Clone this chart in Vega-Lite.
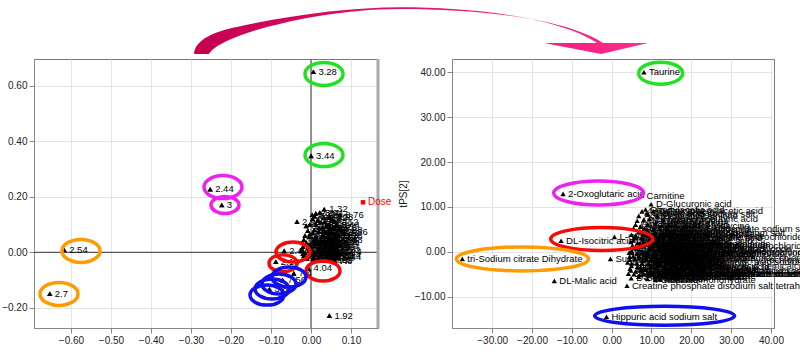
{
"$schema": "https://vega.github.io/schema/vega-lite/v6.json",
"padding": {"left": 1, "top": 6, "right": 0, "bottom": 0},
"bounds": "flush",
"spacing": 74,
"config": {
  "view": {"stroke": "#777", "strokeWidth": 1},
  "axis": {"grid": true, "gridColor": "#e4e4e4", "labelFontSize": 10, "labelColor": "#222"}
},
"datasets": {
  "left": [
    {"label": "3.28", "x": 0.006, "y": 0.65},
    {"label": "3.44", "x": 0.0, "y": 0.347},
    {"label": "2.44", "x": -0.252, "y": 0.227},
    {"label": "3", "x": -0.223, "y": 0.17},
    {"label": "2.54", "x": -0.617, "y": 0.008},
    {"label": "2.7", "x": -0.653, "y": -0.149},
    {"label": "1.92", "x": 0.046, "y": -0.228},
    {"label": "1.32", "x": 0.033, "y": 0.155},
    {"label": "8.76", "x": 0.073, "y": 0.134},
    {"label": "7.36", "x": 0.083, "y": 0.072},
    {"label": "2.96", "x": -0.035, "y": 0.11},
    {"label": "2.4", "x": -0.067, "y": 0.005},
    {"label": "2.16", "x": -0.088, "y": -0.034},
    {"label": "4.04", "x": -0.006, "y": -0.058},
    {"label": "7.4", "x": -0.043, "y": -0.076},
    {"label": "7.56", "x": -0.071, "y": -0.1},
    {"label": "3.84", "x": -0.104, "y": -0.133},
    {"label": "2.84", "x": 0.012, "y": 0.14},
    {"label": "2.92", "x": 0.003, "y": 0.135},
    {"label": "3.04", "x": 0.022, "y": 0.143},
    {"label": "8.24", "x": 0.017, "y": 0.116},
    {"label": "3.92", "x": 0.032, "y": 0.125},
    {"label": "8.8", "x": 0.052, "y": 0.118},
    {"label": "3.2", "x": 0.045, "y": 0.1},
    {"label": "3.08", "x": 0.038, "y": 0.095},
    {"label": "8.44", "x": 0.063, "y": 0.097},
    {"label": "3.96", "x": 0.028, "y": 0.09},
    {"label": "3.24", "x": -0.008, "y": 0.078},
    {"label": "6.88", "x": 0.004, "y": 0.07},
    {"label": "7.28", "x": 0.02, "y": 0.075},
    {"label": "7.88", "x": 0.07, "y": 0.082},
    {"label": "3.16", "x": 0.055, "y": 0.07},
    {"label": "4.12", "x": 0.042, "y": 0.06},
    {"label": "3.68", "x": 0.07, "y": 0.044},
    {"label": "7.32", "x": 0.06, "y": 0.05},
    {"label": "4.08", "x": 0.012, "y": 0.058},
    {"label": "3.12", "x": -0.018, "y": 0.045},
    {"label": "2.68", "x": -0.012, "y": 0.035},
    {"label": "3.36", "x": 0.005, "y": 0.04},
    {"label": "3.52", "x": 0.025, "y": 0.045},
    {"label": "3.56", "x": 0.035, "y": 0.035},
    {"label": "3.6", "x": 0.05, "y": 0.03},
    {"label": "3.64", "x": 0.062, "y": 0.02},
    {"label": "3.72", "x": -0.02, "y": 0.02},
    {"label": "3.76", "x": -0.008, "y": 0.015},
    {"label": "3.8", "x": 0.008, "y": 0.022},
    {"label": "3.88", "x": 0.02, "y": 0.015},
    {"label": "4", "x": 0.032, "y": 0.012},
    {"label": "4.16", "x": 0.045, "y": 0.008},
    {"label": "4.2", "x": 0.058, "y": 0.005},
    {"label": "4.24", "x": 0.068, "y": 0.0},
    {"label": "4.28", "x": -0.025, "y": 0.005},
    {"label": "4.32", "x": -0.015, "y": -0.002},
    {"label": "4.36", "x": 0.0, "y": -0.005},
    {"label": "2.04", "x": 0.012, "y": -0.01},
    {"label": "2.36", "x": 0.025, "y": -0.012},
    {"label": "2.56", "x": 0.038, "y": -0.015},
    {"label": "1.04", "x": 0.05, "y": -0.018},
    {"label": "1.2", "x": 0.062, "y": -0.02},
    {"label": "1.44", "x": 0.067, "y": -0.016},
    {"label": "5.24", "x": -0.01, "y": -0.022},
    {"label": "7.04", "x": 0.005, "y": -0.025},
    {"label": "7.2", "x": 0.02, "y": -0.028},
    {"label": "7.44", "x": 0.033, "y": -0.03},
    {"label": "7.52", "x": 0.045, "y": -0.026},
    {"label": "7.6", "x": 0.058, "y": -0.03},
    {"label": "7.64", "x": -0.018, "y": -0.012},
    {"label": "7.84", "x": 0.015, "y": 0.005},
    {"label": "8.08", "x": 0.028, "y": 0.002},
    {"label": "8.12", "x": 0.04, "y": 0.02},
    {"label": "8.2", "x": 0.052, "y": 0.015},
    {"label": "8.32", "x": 0.065, "y": 0.01},
    {"label": "2.12", "x": 0.003, "y": 0.008},
    {"label": "2.28", "x": -0.005, "y": 0.028},
    {"label": "2.32", "x": 0.018, "y": 0.032},
    {"label": "2.48", "x": 0.03, "y": 0.028},
    {"label": "2.6", "x": 0.042, "y": 0.04},
    {"label": "2.64", "x": 0.055, "y": 0.045},
    {"label": "2.72", "x": 0.01, "y": 0.05},
    {"label": "2.76", "x": 0.028, "y": 0.06},
    {"label": "2.88", "x": 0.036, "y": 0.07},
    {"label": "3.4", "x": 0.048, "y": 0.085},
    {"label": "5.22", "x": 0.06, "y": 0.062},
    {"label": "1.08", "x": -0.005, "y": 0.055},
    {"label": "0.88", "x": -0.022, "y": 0.01},
    {"label": "0.92", "x": -0.012, "y": 0.03},
    {"label": "0.96", "x": 0.0, "y": 0.02},
    {"label": "1.12", "x": 0.01, "y": 0.035},
    {"label": "1.16", "x": 0.022, "y": 0.025},
    {"label": "1.24", "x": 0.034, "y": 0.045},
    {"label": "1.28", "x": 0.046, "y": 0.052},
    {"label": "1.36", "x": 0.058, "y": 0.038},
    {"label": "1.4", "x": 0.066, "y": 0.028},
    {"label": "1.52", "x": -0.015, "y": 0.06},
    {"label": "1.56", "x": -0.003, "y": 0.065},
    {"label": "1.6", "x": 0.008, "y": 0.08},
    {"label": "1.64", "x": 0.02, "y": 0.088},
    {"label": "1.68", "x": 0.032, "y": 0.08},
    {"label": "1.72", "x": 0.044, "y": 0.072},
    {"label": "1.76", "x": 0.056, "y": 0.088},
    {"label": "1.8", "x": -0.02, "y": -0.005},
    {"label": "1.84", "x": -0.008, "y": -0.015},
    {"label": "1.88", "x": 0.006, "y": -0.018},
    {"label": "1.96", "x": 0.018, "y": -0.02},
    {"label": "2", "x": 0.03, "y": -0.022},
    {"label": "2.08", "x": 0.042, "y": -0.008},
    {"label": "2.2", "x": 0.054, "y": -0.012},
    {"label": "2.24", "x": 0.066, "y": -0.008},
    {"label": "2.52", "x": -0.022, "y": 0.035},
    {"label": "2.8", "x": 0.015, "y": 0.045},
    {"label": "3.32", "x": 0.027, "y": 0.038},
    {"label": "3.48", "x": 0.04, "y": 0.028},
    {"label": "4.4", "x": 0.052, "y": 0.022},
    {"label": "4.44", "x": 0.063, "y": 0.035},
    {"label": "4.48", "x": -0.004, "y": 0.005},
    {"label": "4.52", "x": 0.009, "y": -0.003},
    {"label": "4.56", "x": 0.024, "y": -0.002},
    {"label": "4.6", "x": 0.036, "y": 0.0},
    {"label": "4.64", "x": 0.049, "y": -0.004},
    {"label": "5.28", "x": 0.07, "y": 0.06},
    {"label": "5.32", "x": 0.064, "y": 0.07},
    {"label": "5.36", "x": 0.012, "y": 0.1},
    {"label": "5.4", "x": 0.025, "y": 0.108},
    {"label": "6.92", "x": 0.004, "y": 0.12},
    {"label": "6.96", "x": -0.012, "y": 0.095},
    {"label": "7", "x": 0.035, "y": 0.11},
    {"label": "7.08", "x": 0.047, "y": 0.128},
    {"label": "7.12", "x": 0.06, "y": 0.11},
    {"label": "7.16", "x": -0.003, "y": 0.1},
    {"label": "7.24", "x": 0.009, "y": 0.13}
  ],
  "right": [
    {"label": "Taurine", "x": 8.1, "y": 40.0},
    {"label": "2-Oxoglutaric acid", "x": -12.2, "y": 12.9},
    {"label": "Carnitine", "x": 7.5, "y": 12.5},
    {"label": "D-Glucuronic acid", "x": 9.9, "y": 10.6},
    {"label": "DL-Isocitric acid", "x": -12.7, "y": 2.45},
    {"label": "L-Glutamine", "x": 0.7, "y": 3.3},
    {"label": "Succinic acid", "x": -0.3, "y": -1.6},
    {"label": "tri-Sodium citrate Dihydrate", "x": -37.5, "y": -1.6},
    {"label": "DL-Malic acid", "x": -14.4, "y": -6.5},
    {"label": "Creatine phosphate disodium salt tetrahydrate", "x": 3.85, "y": -7.6},
    {"label": "Hippuric acid sodium salt", "x": -1.3, "y": -14.5},
    {"label": "Phenylacetic acid", "x": 8.5, "y": 9.4},
    {"label": "4-Hydroxyphenylacetic acid", "x": 7.6, "y": 9.0},
    {"label": "Pyruvic acid sodium salt", "x": 9.2, "y": 8.3},
    {"label": "Sodium acetate", "x": 8.8, "y": 8.6},
    {"label": "N,N-Dimethylglycine", "x": 6.4, "y": 6.9},
    {"label": "Betaine", "x": 7.2, "y": 5.6},
    {"label": "D-Glucose-6-phosphate sodium salt", "x": 10.5, "y": 5.0},
    {"label": "Choline chloride", "x": 9.0, "y": 4.6},
    {"label": "Acetoacetic acid lithium salt", "x": 13.0, "y": 4.1},
    {"label": "Creatinine", "x": 8.0, "y": 4.2},
    {"label": "Trimethylamine hydrochloride", "x": 15.5, "y": 3.3},
    {"label": "L-Alanine", "x": 6.0, "y": 3.6},
    {"label": "Glycine", "x": 7.5, "y": 3.0},
    {"label": "L-Valine", "x": 9.5, "y": 2.7},
    {"label": "L-Leucine", "x": 11.5, "y": 2.3},
    {"label": "L-Isoleucine", "x": 13.5, "y": 1.9},
    {"label": "Sarcosine", "x": 6.5, "y": 2.0},
    {"label": "Fumaric acid", "x": 8.5, "y": 1.6},
    {"label": "Dimethylamine hydrochloride", "x": 17.0, "y": 1.2},
    {"label": "Sodium formate", "x": 10.0, "y": 1.0},
    {"label": "L-Threonine", "x": 5.5, "y": 0.8},
    {"label": "L-Lysine monohydrochloride", "x": 14.0, "y": 0.5},
    {"label": "L-Proline", "x": 7.0, "y": 0.3},
    {"label": "L-Serine", "x": 9.0, "y": -0.1},
    {"label": "Urea", "x": 5.2, "y": -0.3},
    {"label": "Allantoin", "x": 11.0, "y": -0.4},
    {"label": "Trigonelline hydrochloride", "x": 15.0, "y": -0.6},
    {"label": "Uracil", "x": 6.8, "y": -0.9},
    {"label": "Hypoxanthine", "x": 8.7, "y": -1.1},
    {"label": "Nicotinamide", "x": 12.5, "y": -1.2},
    {"label": "1-Methylnicotinamide chloride", "x": 17.5, "y": -1.4},
    {"label": "Sodium lactate", "x": 5.8, "y": -1.6},
    {"label": "L-Glutamic acid", "x": 10.2, "y": -1.8},
    {"label": "Malonic acid", "x": 7.8, "y": -2.0},
    {"label": "Glycolic acid", "x": 13.8, "y": -2.1},
    {"label": "3-Hydroxybutyric acid sodium salt", "x": 16.0, "y": -2.4},
    {"label": "L-Tyrosine", "x": 6.3, "y": -2.6},
    {"label": "L-Phenylalanine", "x": 9.5, "y": -2.8},
    {"label": "L-Histidine", "x": 12.0, "y": -3.0},
    {"label": "Inosine", "x": 5.0, "y": -3.2},
    {"label": "Uridine", "x": 7.3, "y": -3.4},
    {"label": "myo-Inositol", "x": 11.0, "y": -3.6},
    {"label": "N-Acetylglutamine", "x": 14.5, "y": -3.7},
    {"label": "L-Tryptophan", "x": 8.5, "y": -4.0},
    {"label": "Indoxyl sulfate potassium salt", "x": 16.5, "y": -4.2},
    {"label": "L-Methionine", "x": 6.0, "y": -4.4},
    {"label": "D-Mannitol", "x": 10.0, "y": -4.6},
    {"label": "D-Glucose anhydrous", "x": 13.0, "y": -4.8},
    {"label": "Sodium phosphate dibasic anhydrous", "x": 19.0, "y": -4.9},
    {"label": "Glycerol", "x": 7.0, "y": -5.2},
    {"label": "Lactose monohydrate", "x": 12.0, "y": -5.4},
    {"label": "Pimelic acid", "x": 9.0, "y": -6.1},
    {"label": "D-Saccharic acid", "x": 4.9, "y": -5.9},
    {"label": "Glutaric acid", "x": 4.2, "y": -4.9},
    {"label": "Adipic acid", "x": 4.6, "y": -3.8},
    {"label": "L-Asparagine", "x": 4.0, "y": -2.4},
    {"label": "Citraconic acid", "x": 4.5, "y": -1.1},
    {"label": "Propionic acid", "x": 5.0, "y": 0.2},
    {"label": "L-Arginine hydrochloride", "x": 6.0, "y": 1.2},
    {"label": "Xylitol", "x": 5.5, "y": 2.5},
    {"label": "Kynurenic acid", "x": 11.0, "y": 6.3},
    {"label": "Phenylacetylglycine", "x": 12.5, "y": 5.8},
    {"label": "trans-Aconitic acid", "x": 14.0, "y": 4.8},
    {"label": "cis-Aconitic acid", "x": 17.0, "y": 2.4},
    {"label": "Ethanolamine hydrochloride", "x": 18.5, "y": 0.0},
    {"label": "Methylamine hydrochloride", "x": 19.5, "y": -1.8},
    {"label": "Pantothenic acid hemicalcium salt", "x": 18.0, "y": -3.2},
    {"label": "Oxalic acid", "x": 21.0, "y": -2.6},
    {"label": "Tartaric acid", "x": 22.0, "y": -0.8},
    {"label": "Acetone", "x": 20.0, "y": 1.6},
    {"label": "Isovaleric acid", "x": 23.0, "y": -4.0},
    {"label": "2-Hydroxyisobutyric acid", "x": 9.5, "y": 7.3},
    {"label": "scyllo-Inositol", "x": 15.0, "y": -5.6},
    {"label": "Sucrose", "x": 8.0, "y": -5.0},
    {"label": "D-Galactose", "x": 10.5, "y": 3.6},
    {"label": "Maltose monohydrate", "x": 12.0, "y": -6.2},
    {"label": "Acetylcarnitine", "x": 6.8, "y": 8.0},
    {"label": "Propionylcarnitine", "x": 11.5, "y": 8.0},
    {"label": "Butyric acid", "x": 8.0, "y": 7.0},
    {"label": "Valeric acid", "x": 12.8, "y": 7.0},
    {"label": "Hexanoic acid", "x": 6.0, "y": 6.0},
    {"label": "Levulinic acid", "x": 9.0, "y": 6.0},
    {"label": "Caprylic acid", "x": 14.5, "y": 6.0},
    {"label": "Itaconic acid", "x": 5.5, "y": 5.2},
    {"label": "Maleic acid", "x": 8.2, "y": 5.2},
    {"label": "Mesaconic acid", "x": 12.0, "y": 5.2},
    {"label": "Glyoxylic acid", "x": 6.8, "y": 4.4},
    {"label": "Formic acid", "x": 10.8, "y": 4.4},
    {"label": "Benzoic acid", "x": 15.8, "y": 4.4},
    {"label": "Salicylic acid", "x": 5.0, "y": 3.8},
    {"label": "4-Aminohippuric acid", "x": 8.8, "y": 3.8},
    {"label": "Nicotinic acid", "x": 12.2, "y": 3.8},
    {"label": "Picolinic acid", "x": 6.2, "y": 3.0},
    {"label": "Quinolinic acid", "x": 10.0, "y": 3.0},
    {"label": "Anthranilic acid", "x": 13.0, "y": 3.0},
    {"label": "Homovanillic acid", "x": 18.0, "y": 3.0},
    {"label": "Vanillylmandelic acid", "x": 4.8, "y": 2.2},
    {"label": "3-Methylhistidine", "x": 8.0, "y": 2.2},
    {"label": "1-Methylhistidine", "x": 11.0, "y": 2.2},
    {"label": "Carnosine", "x": 15.0, "y": 2.2},
    {"label": "Anserine", "x": 5.2, "y": 1.4},
    {"label": "Ornithine monohydrochloride", "x": 7.4, "y": 1.4},
    {"label": "Citrulline", "x": 12.8, "y": 1.4},
    {"label": "Homocitrulline", "x": 16.0, "y": 1.4},
    {"label": "beta-Alanine", "x": 6.2, "y": 0.6},
    {"label": "gamma-Aminobutyric acid", "x": 9.6, "y": 0.6},
    {"label": "Aminoadipic acid", "x": 12.0, "y": 0.6},
    {"label": "Cystine", "x": 16.5, "y": 0.6},
    {"label": "Cysteine hydrochloride", "x": 4.4, "y": -0.2},
    {"label": "Glutathione reduced", "x": 7.6, "y": -0.2},
    {"label": "Guanidinoacetic acid", "x": 13.0, "y": -0.2},
    {"label": "Methylguanidine hydrochloride", "x": 17.0, "y": -0.2},
    {"label": "Dimethyl sulfone", "x": 5.4, "y": -1.0},
    {"label": "Methanol", "x": 10.6, "y": -1.0},
    {"label": "Ethanol", "x": 14.0, "y": -1.0},
    {"label": "Isopropanol", "x": 16.8, "y": -1.0},
    {"label": "Acetaldehyde", "x": 4.6, "y": -1.8},
    {"label": "Acetamide", "x": 8.6, "y": -1.8},
    {"label": "Thymine", "x": 12.0, "y": -1.8},
    {"label": "Thymidine", "x": 15.0, "y": -1.8},
    {"label": "Cytidine", "x": 5.0, "y": -2.6},
    {"label": "Cytosine", "x": 7.6, "y": -2.6},
    {"label": "Adenosine", "x": 11.0, "y": -2.6},
    {"label": "Guanosine", "x": 14.0, "y": -2.6},
    {"label": "Xanthine", "x": 19.0, "y": -2.6},
    {"label": "Uric acid sodium salt", "x": 6.4, "y": -3.4},
    {"label": "Orotic acid", "x": 9.8, "y": -3.4},
    {"label": "Pseudouridine", "x": 13.2, "y": -3.4},
    {"label": "N-Acetylaspartic acid", "x": 16.0, "y": -3.4},
    {"label": "N-Acetylglycine", "x": 4.8, "y": -4.2},
    {"label": "Isobutyric acid", "x": 7.2, "y": -4.2},
    {"label": "2-Methylbutyric acid", "x": 11.8, "y": -4.2},
    {"label": "3-Methyl-2-oxovaleric acid sodium salt", "x": 14.0, "y": -4.2},
    {"label": "4-Methyl-2-oxovaleric acid sodium salt", "x": 5.6, "y": -5.0},
    {"label": "3-Methyl-2-oxobutyric acid sodium salt", "x": 9.2, "y": -5.0},
    {"label": "2-Hydroxybutyric acid sodium salt", "x": 15.8, "y": -5.0},
    {"label": "2-Hydroxyisovaleric acid", "x": 6.8, "y": -5.6},
    {"label": "Methylmalonic acid", "x": 10.8, "y": -5.6},
    {"label": "Ethylmalonic acid", "x": 13.4, "y": -5.6},
    {"label": "Galactitol", "x": 11.0, "y": -6.3},
    {"label": "D-Fructose", "x": 10.5, "y": 9.0},
    {"label": "L-Arabinose", "x": 7.0, "y": 1.8},
    {"label": "D-Ribose", "x": 9.0, "y": -0.6},
    {"label": "L-Fucose", "x": 11.8, "y": -2.3},
    {"label": "Trehalose dihydrate", "x": 13.8, "y": -1.5},
    {"label": "Raffinose pentahydrate", "x": 10.2, "y": -4.9},
    {"label": "Gluconic acid sodium salt", "x": 8.0, "y": -3.8},
    {"label": "Glycerophosphocholine", "x": 12.8, "y": 0.1},
    {"label": "O-Phosphoethanolamine", "x": 7.0, "y": -1.3},
    {"label": "Tyramine hydrochloride", "x": 9.4, "y": 0.9},
    {"label": "Histamine dihydrochloride", "x": 11.2, "y": 1.7},
    {"label": "Putrescine dihydrochloride", "x": 6.4, "y": -0.4},
    {"label": "Spermidine", "x": 14.8, "y": -2.9},
    {"label": "Imidazole", "x": 5.8, "y": 3.2},
    {"label": "Pyridoxine hydrochloride", "x": 8.4, "y": 4.0},
    {"label": "Thiamine hydrochloride", "x": 12.4, "y": 3.4}
  ],
  "leftRings": [
    {"x": 0.0325, "y": 0.642, "cluster": "G", "ring": "a"},
    {"x": 0.0325, "y": 0.35, "cluster": "G", "ring": "a"},
    {"x": -0.22, "y": 0.235, "cluster": "M", "ring": "a"},
    {"x": -0.215, "y": 0.17, "cluster": "M", "ring": "b"},
    {"x": -0.575, "y": 0.005, "cluster": "O", "ring": "a"},
    {"x": -0.63, "y": -0.15, "cluster": "O", "ring": "a"},
    {"x": -0.045, "y": 0.001, "cluster": "R", "ring": "c"},
    {"x": -0.07, "y": -0.039, "cluster": "R", "ring": "b"},
    {"x": 0.03, "y": -0.067, "cluster": "R", "ring": "c"},
    {"x": -0.055, "y": -0.089, "cluster": "B", "ring": "c"},
    {"x": -0.08, "y": -0.114, "cluster": "B", "ring": "c"},
    {"x": -0.0975, "y": -0.132, "cluster": "B", "ring": "c"},
    {"x": -0.11, "y": -0.154, "cluster": "B", "ring": "c"}
  ],
  "rightRings": [
    {"x": 12.3, "y": 39.8, "cluster": "G", "ring": "T"},
    {"x": -3.27, "y": 13.1, "cluster": "M", "ring": "O"},
    {"x": -2.5, "y": 2.83, "cluster": "R", "ring": "I"},
    {"x": -22.4, "y": -1.6, "cluster": "O", "ring": "S"},
    {"x": 13.3, "y": -14.3, "cluster": "B", "ring": "H"}
  ],
  "dose": [{"label": "Dose", "x": 0.13, "y": 0.18}],
  "origin": [{"x": 0, "y": 0}],
  "edge": [{"x": 0.1675}],
  "arrowAnchor": [{"x": -0.275, "y": 0.6958}]
},
"hconcat": [
  {
    "width": 344,
    "height": 269,
    "layer": [
      {
        "data": {"name": "left"},
        "mark": {"type": "point", "shape": "triangle-up", "filled": true, "size": 28, "color": "#000", "opacity": 1},
        "encoding": {
          "x": {"field": "x", "type": "quantitative", "scale": {"domain": [-0.6925, 0.1675], "nice": false, "zero": false},
            "axis": {"title": null, "format": ".2f", "values": [-0.6,-0.5,-0.4,-0.3,-0.2,-0.1,0,0.1]}},
          "y": {"field": "y", "type": "quantitative", "scale": {"domain": [-0.2725, 0.6958], "nice": false, "zero": false},
            "axis": {"title": null, "format": ".2f", "values": [-0.2,-0.1,0,0.1,0.2,0.3,0.4,0.5,0.6]}}
        }
      },
      {
        "data": {"name": "origin"},
        "mark": {"type": "rule", "color": "#555", "strokeWidth": 1.2},
        "encoding": {"x": {"field": "x", "type": "quantitative"}}
      },
      {
        "data": {"name": "origin"},
        "mark": {"type": "rule", "color": "#555", "strokeWidth": 1.2},
        "encoding": {"y": {"field": "y", "type": "quantitative"}}
      },
      {
        "data": {"name": "edge"},
        "mark": {"type": "rule", "color": "#aaa", "strokeWidth": 3},
        "encoding": {"x": {"field": "x", "type": "quantitative"}}
      },
      {
        "data": {"name": "left"},
        "mark": {"type": "point", "shape": "triangle-up", "filled": true, "size": 28, "color": "#000", "opacity": 1},
        "encoding": {
          "x": {"field": "x", "type": "quantitative"},
          "y": {"field": "y", "type": "quantitative"}
        }
      },
      {
        "data": {"name": "left"},
        "mark": {"type": "text", "align": "left", "baseline": "middle", "dx": 5, "fontSize": 9.5, "font": "Liberation Sans", "color": "#000"},
        "encoding": {
          "x": {"field": "x", "type": "quantitative"},
          "y": {"field": "y", "type": "quantitative"},
          "text": {"field": "label"}
        }
      },
      {
        "data": {"name": "leftRings"},
        "mark": {"type": "point", "filled": false, "size": 4, "strokeWidth": 3.5, "opacity": 1},
        "encoding": {
          "x": {"field": "x", "type": "quantitative"},
          "y": {"field": "y", "type": "quantitative"},
          "color": {"field": "cluster", "type": "nominal", "legend": null,
            "scale": {"domain": ["G","M","O","R","B"], "range": ["#22e022","#f020f0","#ff9a00","#f50a0a","#1010ee"]}},
          "shape": {"field": "ring", "type": "nominal", "legend": null,
            "scale": {"domain": ["a","b","c","T","O","I","S","H"],
              "range": [
                "M -19 0 A 19 11.5 0 1 0 19 0 A 19 11.5 0 1 0 -19 0 Z",
                "M -14 0 A 14 8.5 0 1 0 14 0 A 14 8.5 0 1 0 -14 0 Z",
                "M -17 0 A 17 10 0 1 0 17 0 A 17 10 0 1 0 -17 0 Z",
                "M -22 0 A 22 11 0 1 0 22 0 A 22 11 0 1 0 -22 0 Z",
                "M -45 0 A 45 12 0 1 0 45 0 A 45 12 0 1 0 -45 0 Z",
                "M -51 0 A 51 11.5 0 1 0 51 0 A 51 11.5 0 1 0 -51 0 Z",
                "M -66 0 A 66 12 0 1 0 66 0 A 66 12 0 1 0 -66 0 Z",
                "M -70 0 A 70 9.5 0 1 0 70 0 A 70 9.5 0 1 0 -70 0 Z"
              ]}}
        }
      },
      {
        "data": {"name": "dose"},
        "mark": {"type": "point", "shape": "square", "filled": true, "size": 20, "color": "#ff0000", "opacity": 1},
        "encoding": {"x": {"field": "x", "type": "quantitative"}, "y": {"field": "y", "type": "quantitative"}}
      },
      {
        "data": {"name": "dose"},
        "mark": {"type": "text", "align": "left", "baseline": "middle", "dx": 5, "fontSize": 10, "font": "Liberation Sans", "color": "#ff0000"},
        "encoding": {"x": {"field": "x", "type": "quantitative"}, "y": {"field": "y", "type": "quantitative"}, "text": {"field": "label"}}
      },
      {
        "data": {"name": "arrowAnchor"},
        "mark": {"type": "point", "size": 4, "opacity": 1, "strokeWidth": 0, "filled": true,
          "shape": "M -7 -5 C -6 -20 15 -28 37 -32.3 C 90 -44 150 -51.7 200 -51.7 C 270 -51.7 358 -42 396 -16 L 343 -16 L 400 -5 L 447 -16 L 402 -16 C 366 -40 280 -50 200 -50 C 140 -50 85 -38 50 -27.3 C 25 -19 12 -12 8 -5 Z",
          "fill": {"gradient": "linear", "x1": 0, "y1": 0, "x2": 1, "y2": 0,
            "stops": [{"offset": 0, "color": "#c4004f"}, {"offset": 1, "color": "#ff2a90"}]}},
        "encoding": {"x": {"field": "x", "type": "quantitative"}, "y": {"field": "y", "type": "quantitative"}}
      }
    ]
  },
  {
    "width": 322,
    "height": 269,
    "layer": [
      {
        "data": {"name": "right"},
        "mark": {"type": "point", "shape": "triangle-up", "filled": true, "size": 28, "color": "#000", "opacity": 1},
        "encoding": {
          "x": {"field": "x", "type": "quantitative", "scale": {"domain": [-40.09, 40.76], "nice": false, "zero": false},
            "axis": {"title": null, "format": ".2f", "values": [-30,-20,-10,0,10,20,30,40]}},
          "y": {"field": "y", "type": "quantitative", "scale": {"domain": [-17.01, 42.97], "nice": false, "zero": false},
            "axis": {"title": "tPS[2]", "titleFontWeight": "normal", "titleFontSize": 10, "titleColor": "#222", "titlePadding": 6,
              "format": ".2f", "values": [-10,0,10,20,30,40]}}
        }
      },
      {
        "data": {"name": "right"},
        "mark": {"type": "text", "align": "left", "baseline": "middle", "dx": 5, "fontSize": 9.5, "font": "Liberation Sans", "color": "#000"},
        "encoding": {
          "x": {"field": "x", "type": "quantitative"},
          "y": {"field": "y", "type": "quantitative"},
          "text": {"field": "label"}
        }
      },
      {
        "data": {"name": "rightRings"},
        "mark": {"type": "point", "filled": false, "size": 4, "strokeWidth": 3.5, "opacity": 1},
        "encoding": {
          "x": {"field": "x", "type": "quantitative"},
          "y": {"field": "y", "type": "quantitative"},
          "color": {"field": "cluster", "type": "nominal", "legend": null,
            "scale": {"domain": ["G","M","O","R","B"], "range": ["#22e022","#f020f0","#ff9a00","#f50a0a","#1010ee"]}},
          "shape": {"field": "ring", "type": "nominal", "legend": null,
            "scale": {"domain": ["a","b","c","T","O","I","S","H"],
              "range": [
                "M -19 0 A 19 11.5 0 1 0 19 0 A 19 11.5 0 1 0 -19 0 Z",
                "M -14 0 A 14 8.5 0 1 0 14 0 A 14 8.5 0 1 0 -14 0 Z",
                "M -17 0 A 17 10 0 1 0 17 0 A 17 10 0 1 0 -17 0 Z",
                "M -22 0 A 22 11 0 1 0 22 0 A 22 11 0 1 0 -22 0 Z",
                "M -45 0 A 45 12 0 1 0 45 0 A 45 12 0 1 0 -45 0 Z",
                "M -51 0 A 51 11.5 0 1 0 51 0 A 51 11.5 0 1 0 -51 0 Z",
                "M -66 0 A 66 12 0 1 0 66 0 A 66 12 0 1 0 -66 0 Z",
                "M -70 0 A 70 9.5 0 1 0 70 0 A 70 9.5 0 1 0 -70 0 Z"
              ]}}
        }
      }
    ]
  }
]
}
